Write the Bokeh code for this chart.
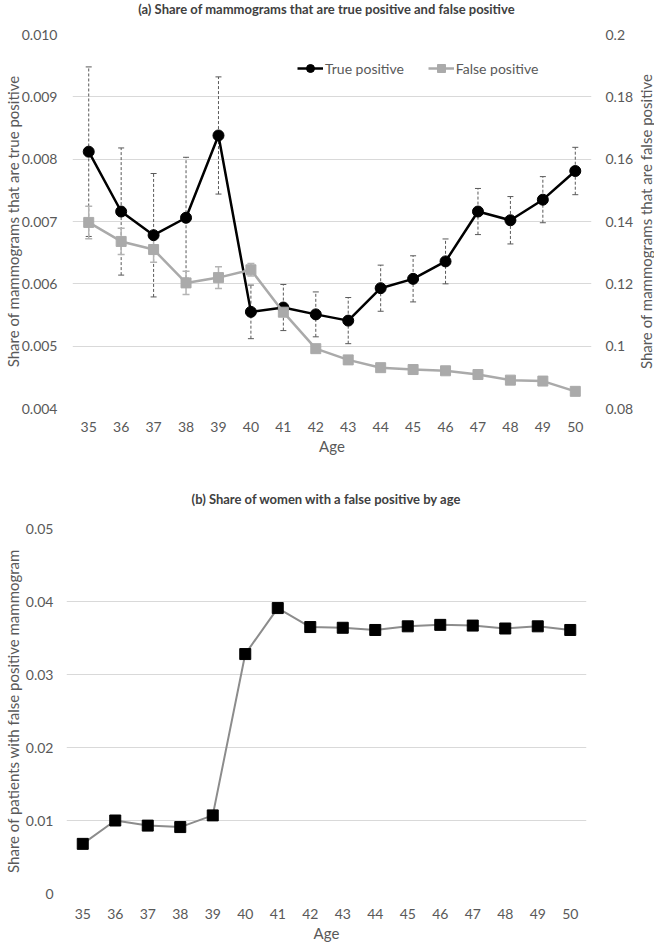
import math
from bokeh.plotting import figure
from bokeh.models import (Range1d, LinearAxis, FixedTicker, NumeralTickFormatter, Whisker,
                          ColumnDataSource, Legend, LegendItem, TeeHead)
from bokeh.core.properties import value
from bokeh.layouts import column, row
from bokeh.embed import file_html
from bokeh.resources import INLINE

# ---------------- data ----------------
ages = [35, 36, 37, 38, 39, 40, 41, 42, 43, 44, 45, 46, 47, 48, 49, 50]
true_pos = [0.00812, 0.00716, 0.00678, 0.00706, 0.00838, 0.00555, 0.00562, 0.00551,
            0.00541, 0.00593, 0.00608, 0.00636, 0.00716, 0.00702, 0.00735, 0.00781]
true_pos_err = [0.00136, 0.00102, 0.00099, 0.00097, 0.00094, 0.00043, 0.00037, 0.00036,
                0.00037, 0.00037, 0.00037, 0.00036, 0.00037, 0.00038, 0.00037, 0.00038]
false_pos = [0.1397, 0.1336, 0.1310, 0.1203, 0.1220, 0.1245, 0.1109, 0.0992,
             0.0956, 0.0931, 0.0925, 0.0921, 0.0909, 0.0891, 0.0888, 0.0855]
false_pos_err = [0.0052, 0.0042, 0.0041, 0.0037, 0.0035, 0.0020, 0.0010, 0.0009,
                 0.0009, 0.0008, 0.0008, 0.0008, 0.0008, 0.0008, 0.0008, 0.0008]
women_fp = [0.0068, 0.0100, 0.0093, 0.0091, 0.0107, 0.0328, 0.0391, 0.0365,
            0.0364, 0.0361, 0.0366, 0.0368, 0.0367, 0.0363, 0.0366, 0.0361]

left_ticks_a = [0.004, 0.005, 0.006, 0.007, 0.008, 0.009, 0.010]
right_ticks_a = [0.08, 0.10, 0.12, 0.14, 0.16, 0.18, 0.20]
left_ticks_b = [0.0, 0.01, 0.02, 0.03, 0.04, 0.05]

title_a = "(a) Share of mammograms that are true positive and false positive"
title_b = "(b) Share of women with a false positive by age"

FONT = "Lato"
TXT = "#595959"
GRID = "#d9d9d9"


def style(p):
    p.xgrid.visible = False
    p.ygrid.grid_line_color = GRID
    p.ygrid.grid_line_width = 1
    p.outline_line_color = None
    p.background_fill_color = "white"
    p.border_fill_color = "white"
    for ax in p.axis:
        ax.axis_line_color = None
        ax.major_tick_line_color = None
        ax.minor_tick_line_color = None
        ax.major_tick_out = 0
        ax.major_label_text_font = FONT
        ax.major_label_text_font_size = "14px"
        ax.major_label_text_color = TXT
        ax.axis_label_text_font = FONT
        ax.axis_label_text_font_size = "15px"
        ax.axis_label_text_color = TXT
        ax.axis_label_text_font_style = "normal"


def text_strip(width, height, text, angle=0.0, bold=False, size="15px", color=TXT,
               border_left=0, border_right=0, border_top=0, border_bottom=0, y_range=None, ymid=0.5):
    f = figure(width=width, height=height, x_range=Range1d(0, 1),
               y_range=y_range if y_range is not None else Range1d(0, 1),
               output_backend="svg", toolbar_location=None,
               min_border_left=border_left, min_border_right=border_right,
               min_border_top=border_top, min_border_bottom=border_bottom)
    f.axis.visible = False
    f.grid.visible = False
    f.outline_line_color = None
    f.text(x=[0.5], y=[ymid], text=[text], angle=angle, text_align="center",
           text_baseline="middle", text_font=value(FONT), text_font_size=size,
           text_font_style="bold" if bold else "normal", text_color=color)
    return f


# ---------------- panel (a) ----------------
src_a = ColumnDataSource(dict(
    age=ages, tp=true_pos,
    tp_lo=[v - e for v, e in zip(true_pos, true_pos_err)],
    tp_hi=[v + e for v, e in zip(true_pos, true_pos_err)],
    fp=false_pos,
    fp_lo=[v - e for v, e in zip(false_pos, false_pos_err)],
    fp_hi=[v + e for v, e in zip(false_pos, false_pos_err)],
))

hdr1 = text_strip(654, 16, title_a, bold=True, size="13px", color="#404040")

H1 = 466
p1 = figure(width=636, height=H1, x_range=Range1d(34.5, 50.5), y_range=Range1d(0.004, 0.010),
            output_backend="svg", toolbar_location=None,
            min_border_left=68, min_border_right=43, min_border_top=18, min_border_bottom=74)
p1.extra_y_ranges = {"fp": Range1d(0.08, 0.20)}

p1.xaxis.ticker = FixedTicker(ticks=ages)
p1.xaxis.axis_label = "Age"
p1.xaxis.major_label_standoff = 13
p1.xaxis.axis_label_standoff = 2
p1.yaxis.ticker = FixedTicker(ticks=left_ticks_a)
p1.yaxis.formatter = NumeralTickFormatter(format="0.000")
p1.yaxis.axis_label = "Share of mammograms that are true positive"
p1.yaxis.major_label_standoff = 15
p1.yaxis.axis_label_standoff = -3

rax = LinearAxis(y_range_name="fp", ticker=FixedTicker(ticks=right_ticks_a),
                 formatter=NumeralTickFormatter(format="0.[00]"),
                 major_label_standoff=14)
p1.add_layout(rax, "right")
style(p1)

# error bars
tp_w = Whisker(source=src_a, base="age", upper="tp_hi", lower="tp_lo",
               line_color="#595959", line_width=1, line_dash="3 2",
               upper_head=TeeHead(size=6, line_color="#595959", line_width=1),
               lower_head=TeeHead(size=6, line_color="#595959", line_width=1))
p1.add_layout(tp_w)
fp_w = Whisker(source=src_a, base="age", upper="fp_hi", lower="fp_lo", y_range_name="fp",
               line_color="#b4b4b4", line_width=1.5,
               upper_head=TeeHead(size=7, line_color="#b4b4b4", line_width=1.5),
               lower_head=TeeHead(size=7, line_color="#b4b4b4", line_width=1.5))
p1.add_layout(fp_w)

tp_line = p1.line("age", "tp", source=src_a, line_color="black", line_width=2.5)
tp_pts = p1.scatter("age", "tp", source=src_a, marker="circle", size=11,
                    fill_color="black", line_color="black")
fp_line = p1.line("age", "fp", source=src_a, y_range_name="fp", line_color="#aaaaaa", line_width=2.5)
fp_pts = p1.scatter("age", "fp", source=src_a, y_range_name="fp", marker="square", size=10,
                    fill_color="#aaaaaa", line_color="#aaaaaa")

legend = Legend(items=[LegendItem(label="True positive", renderers=[tp_line, tp_pts]),
                       LegendItem(label="False positive", renderers=[fp_line, fp_pts])],
                orientation="horizontal", location=(225, 330),
                border_line_color=None, background_fill_alpha=0,
                label_text_font=FONT, label_text_font_size="14px", label_text_color=TXT,
                glyph_width=26, spacing=24, padding=0, margin=0, label_standoff=2)
p1.add_layout(legend)

# right-hand axis title (reads bottom-to-top), in a narrow companion strip
rlab = text_strip(18, H1, "Share of mammograms that are false positive", angle=math.pi / 2,
                  border_top=18, border_bottom=74, y_range=p1.y_range, ymid=0.007)

# ---------------- panel (b) ----------------
hdr2 = text_strip(654, 32, title_b, bold=True, size="13px", color="#404040",
                  border_left=62, border_right=68)

src_b = ColumnDataSource(dict(age=ages, v=women_fp))
p2 = figure(width=654, height=431, x_range=Range1d(34.5, 50.5), y_range=Range1d(0.0, 0.05),
            output_backend="svg", toolbar_location=None,
            min_border_left=62, min_border_right=68, min_border_top=14, min_border_bottom=52)
p2.xaxis.ticker = FixedTicker(ticks=ages)
p2.xaxis.axis_label = "Age"
p2.xaxis.major_label_standoff = 15
p2.xaxis.axis_label_standoff = 2
p2.yaxis.ticker = FixedTicker(ticks=left_ticks_b)
p2.yaxis.formatter = NumeralTickFormatter(format="0.[00]")
p2.yaxis.axis_label = "Share of patients with false positive mammogram"
p2.yaxis.major_label_standoff = 13
p2.yaxis.axis_label_standoff = 1
style(p2)

p2.line("age", "v", source=src_b, line_color="#8c8c8c", line_width=2)
p2.scatter("age", "v", source=src_b, marker="square", size=11, fill_color="black", line_color="black")

layout = column(hdr1, row(p1, rlab, spacing=0), hdr2, p2, spacing=0)
open("out.html", "w").write(file_html(layout, INLINE))
